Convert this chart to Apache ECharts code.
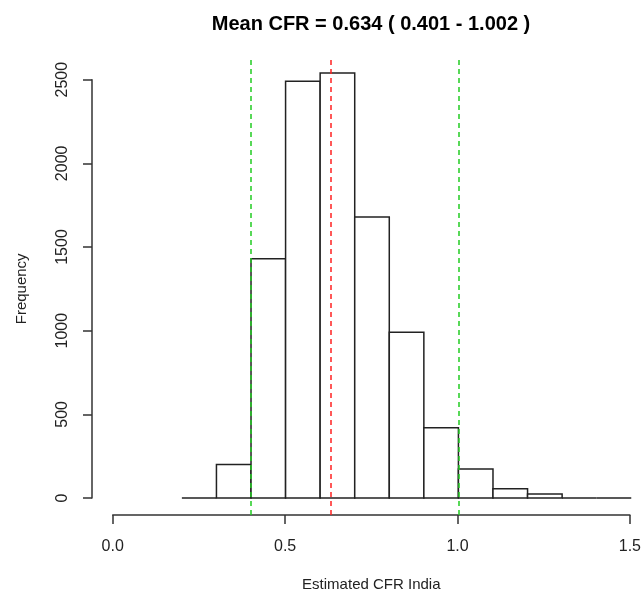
<!DOCTYPE html>
<html>
<head>
<meta charset="utf-8">
<script src="https://cdn.jsdelivr.net/npm/echarts@6/dist/echarts.min.js"></script>
<style>
html,body{margin:0;padding:0;background:#fff;}
#chart{width:644px;height:597px;}
</style>
</head>
<body>
<div id="chart"></div>
<script>
// Histogram bins (lower edge, upper edge) and counts
const binStarts = [0.2, 0.3, 0.4, 0.5, 0.6, 0.7, 0.8, 0.9, 1.0, 1.1, 1.2, 1.3, 1.4];
const binEnds   = [0.3, 0.4, 0.5, 0.6, 0.7, 0.8, 0.9, 1.0, 1.1, 1.2, 1.3, 1.4, 1.5];
const counts    = [0, 200, 1430, 2490, 2540, 1680, 990, 420, 173, 55, 24, 0, 0];
const meanCFR = 0.634;
const ciLow = 0.401;
const ciHigh = 1.002;
const xTicks = [0.0, 0.5, 1.0, 1.5];
const yTicks = [0, 500, 1000, 1500, 2000, 2500];
const titleText = 'Mean CFR = 0.634 ( 0.401 - 1.002 )';
const xLabel = 'Estimated CFR India';
const yLabel = 'Frequency';

// Plot region (R style, 4% extension)
const W = 644;
const xLo = 0, xHi = 1.5;
const xPad = (xHi - xLo) * 0.04;
const yMaxData = Math.max(...counts);
const yPad = yMaxData * 0.04;
const pr = {left: 92, top: 56, width: 560, height: 459};
const pxX = pr.width / (xHi - xLo + 2 * xPad);
const pxY = pr.height / (yMaxData + 2 * yPad);
const visW = Math.min(pr.width, W - pr.left);
const xMaxVis = (xLo - xPad) + visW / pxX;
const xAxGrid = {left: pr.left + (xTicks[0] - (xLo - xPad)) * pxX, width: (xTicks[xTicks.length-1] - xTicks[0]) * pxX, top: pr.top, height: pr.height};
const yAxGrid = {left: pr.left, width: visW, top: pr.top + (yMaxData + yPad - yTicks[yTicks.length-1]) * pxY, height: (yTicks[yTicks.length-1] - yTicks[0]) * pxY};

const FONT = 'Liberation Sans, Arial, sans-serif';
const histData = binStarts.map((s, i) => [s, binEnds[i], counts[i]]);

const chart = echarts.init(document.getElementById('chart'));
chart.setOption({
  animation: false,
  backgroundColor: '#fff',
  title: {
    text: titleText,
    left: pr.left + pr.width / 2 - 6,
    textAlign: 'center',
    top: 9,
    textStyle: {fontFamily: FONT, fontSize: 20, fontWeight: 'bold', color: '#000'}
  },
  grid: [
    {left: pr.left, top: pr.top, width: visW, height: pr.height},
    {left: xAxGrid.left, top: xAxGrid.top, width: xAxGrid.width, height: xAxGrid.height},
    {left: yAxGrid.left, top: yAxGrid.top, width: yAxGrid.width, height: yAxGrid.height}
  ],
  xAxis: [
    {gridIndex: 0, type: 'value', min: xLo - xPad, max: xMaxVis, show: false},
    {gridIndex: 1, type: 'value', min: xTicks[0], max: xTicks[xTicks.length-1], interval: 0.5,
     position: 'bottom',
     axisLine: {show: true, lineStyle: {color: '#333', width: 1.5}},
     axisTick: {show: true, inside: false, length: 9, lineStyle: {color: '#333', width: 1.5}},
     axisLabel: {show: true, margin: 24, fontFamily: FONT, fontSize: 16, color: '#222',
       formatter: v => v.toFixed(1)},
     splitLine: {show: false},
     name: xLabel, nameLocation: 'middle', nameGap: 62,
     nameTextStyle: {fontFamily: FONT, fontSize: 15, color: '#222'}},
    {gridIndex: 2, type: 'value', min: 0, max: 1, show: false}
  ],
  yAxis: [
    {gridIndex: 0, type: 'value', min: -yPad, max: yMaxData + yPad, show: false},
    {gridIndex: 1, type: 'value', min: 0, max: 1, show: false},
    {gridIndex: 2, type: 'value', min: yTicks[0], max: yTicks[yTicks.length-1], interval: 500,
     position: 'left',
     axisLine: {show: true, lineStyle: {color: '#333', width: 1.5}},
     axisTick: {show: true, inside: false, length: 9, lineStyle: {color: '#333', width: 1.5}},
     axisLabel: {show: true, rotate: 90, margin: 21, fontFamily: FONT, fontSize: 16, color: '#222',
       formatter: v => String(v)},
     splitLine: {show: false},
     name: yLabel, nameLocation: 'middle', nameGap: 63, nameRotate: 90,
     nameTextStyle: {fontFamily: FONT, fontSize: 15, color: '#222'}}
  ],
  series: [
    {
      type: 'custom',
      xAxisIndex: 0, yAxisIndex: 0,
      data: histData,
      renderItem: function (params, api) {
        const p0 = api.coord([api.value(0), api.value(2)]);
        const p1 = api.coord([api.value(1), 0]);
        return {
          type: 'rect',
          shape: {x: p0[0], y: p0[1], width: p1[0] - p0[0], height: p1[1] - p0[1]},
          style: {fill: '#fff', stroke: '#222', lineWidth: 1.5}
        };
      },
      z: 2
    },
    {
      type: 'line',
      xAxisIndex: 0, yAxisIndex: 0,
      data: [],
      silent: true,
      z: 5,
      markLine: {
        symbol: 'none', silent: true,
        label: {show: false},
        data: [
          {xAxis: ciLow, lineStyle: {color: '#22cc22', type: [5, 4], width: 1.5}},
          {xAxis: ciHigh, lineStyle: {color: '#22cc22', type: [5, 4], width: 1.5}},
          {xAxis: meanCFR, lineStyle: {color: '#ff2222', type: [5, 4], width: 1.5}}
        ]
      }
    }
  ]
});
</script>
</body>
</html>
